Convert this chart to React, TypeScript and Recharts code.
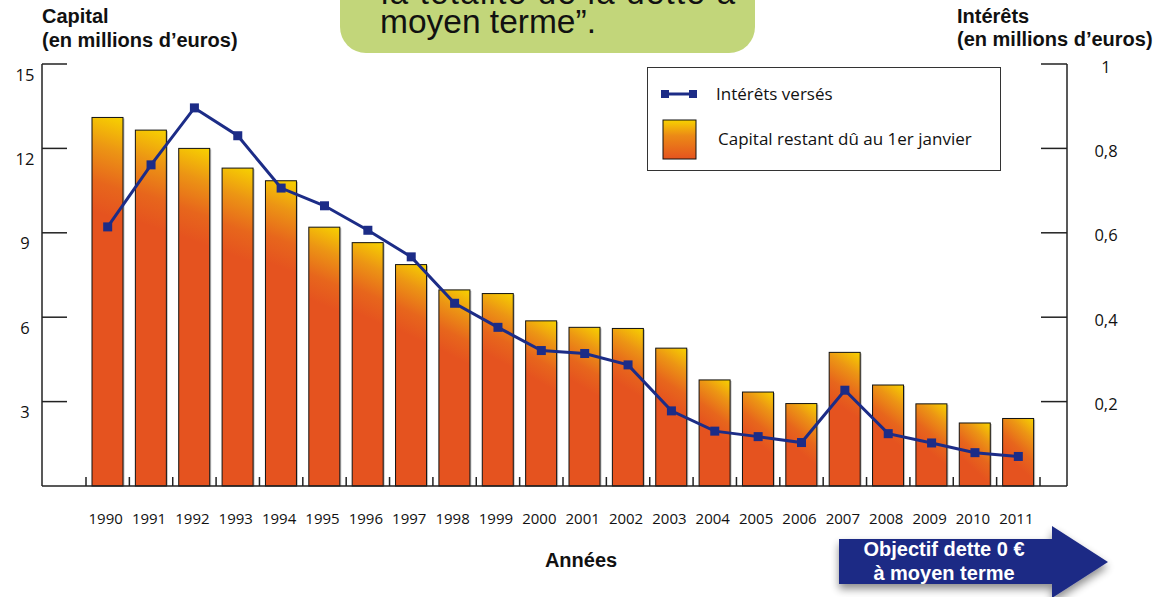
import { Bar, ComposedChart, Legend, Line, XAxis, YAxis } from "recharts";

const years = [
  "1990", "1991", "1992", "1993", "1994", "1995", "1996", "1997", "1998", "1999", "2000",
  "2001", "2002", "2003", "2004", "2005", "2006", "2007", "2008", "2009", "2010", "2011",
];
const capital = [
  13.1, 12.65, 12.0, 11.3, 10.85, 9.2, 8.65, 7.87, 6.97, 6.84, 5.87,
  5.64, 5.6, 4.9, 3.77, 3.34, 2.93, 4.75, 3.59, 2.92, 2.24, 2.4,
];
const interets = [
  0.614, 0.761, 0.896, 0.83, 0.706, 0.664, 0.606, 0.543, 0.433, 0.376, 0.321,
  0.314, 0.287, 0.178, 0.13, 0.117, 0.103, 0.227, 0.124, 0.102, 0.079, 0.07,
];
const capitalTicks = [3, 6, 9, 12, 15];
const interetTicks = [0.2, 0.4, 0.6, 0.8, 1];

const data = years.map((year, i) => ({ year, capital: capital[i], interets: interets[i] }));

const BLUE = "#1C2C87";
const AXIS = "#222";
const TICK_FONT = "'Open Sans', 'Noto Sans', sans-serif";
const BOLD_FONT = "'Liberation Sans', Arial, Helvetica, sans-serif";

const GradBar = (props: any) => {
  const { x, y, width, height, index } = props;
  if (!height || height <= 0) return null;
  const id = `barGrad${index}`;
  const len = 20 + height * 0.2;
  return (
    <g>
      <defs>
        <linearGradient id={id} gradientUnits="userSpaceOnUse" x1={x + width} y1={y} x2={x} y2={y + len}>
          <stop offset="0" stopColor="#F7D200" />
          <stop offset="0.35" stopColor="#EC9514" />
          <stop offset="0.7" stopColor="#E7661C" />
          <stop offset="1" stopColor="#E5531F" />
        </linearGradient>
      </defs>
      <rect x={x + 1.5} y={y + 1} width={width} height={height - 1} fill="#999" opacity={0.6} />
      <rect x={x} y={y} width={width} height={height} fill={`url(#${id})`} stroke="#111" strokeWidth={1} />
    </g>
  );
};

const SquareDot = (props: any) => {
  const { cx, cy, index } = props;
  return <rect key={`d${index}`} x={cx - 4.5} y={cy - 4.5} width={9} height={9} fill={BLUE} />;
};

const LeftTick = (props: any) => {
  const { x, y, payload } = props;
  return (
    <g>
      <line x1={x} x2={x + 25} y1={y} y2={y} stroke={AXIS} strokeWidth={1.5} />
      <text x={x - 17} y={y + 10} textAnchor="middle" dominantBaseline="central" fontSize={16.5} fill="#111" fontFamily={TICK_FONT}>
        {payload.value}
      </text>
    </g>
  );
};

const RightTick = (props: any) => {
  const { x, y, payload } = props;
  return (
    <g>
      <line x1={x - 26} x2={x} y1={y} y2={y} stroke={AXIS} strokeWidth={1.5} />
      <text x={x + 39} y={y + 2} textAnchor="middle" dominantBaseline="central" fontSize={16.5} fill="#111" fontFamily={TICK_FONT}>
        {String(payload.value).replace(".", ",")}
      </text>
    </g>
  );
};

const YearTick = (props: any) => {
  const { x, y, payload } = props;
  const half = payload.offset || 21.7;
  const last = payload.value === years[years.length - 1];
  return (
    <g>
      <line x1={x - half} x2={x - half} y1={y} y2={y - 9} stroke={AXIS} strokeWidth={1.5} />
      {last && <line x1={x + half} x2={x + half} y1={y} y2={y - 9} stroke={AXIS} strokeWidth={1.5} />}
      <text x={x - 2} y={y + 38} textAnchor="middle" fontSize={15} fill="#111" fontFamily={TICK_FONT}>
        {payload.value}
      </text>
    </g>
  );
};

const LegendBox = () => (
  <div style={{ width: 352, height: 102, border: "1.5px solid #333", background: "#fff" }}>
    <svg width={352} height={102} style={{ display: "block" }}>
      <line x1={15} x2={47} y1={26} y2={26} stroke={BLUE} strokeWidth={3} />
      <rect x={13} y={22} width={8} height={8} fill={BLUE} />
      <rect x={41} y={22} width={8} height={8} fill={BLUE} />
      <text x={68} y={32} fontSize={17} fill="#111" fontFamily={TICK_FONT}>Intérêts versés</text>
      <defs>
        <linearGradient id="legGrad" x1="0" y1="0" x2="0" y2="1">
          <stop offset="0" stopColor="#F7D200" />
          <stop offset="0.4" stopColor="#EC8A16" />
          <stop offset="1" stopColor="#E5531F" />
        </linearGradient>
      </defs>
      <rect x={15} y={52} width={33} height={39} fill="url(#legGrad)" stroke="#111" strokeWidth={1} />
      <text x={70} y={77} fontSize={17} fill="#111" fontFamily={TICK_FONT}>Capital restant dû au 1er janvier</text>
    </svg>
  </div>
);

const App = () => {
  return (
    <div style={{ position: "absolute", left: 0, top: 0, width: 1155, height: 597, background: "#fff" }}>
      <ComposedChart width={1155} height={597} data={data} margin={{ top: 64, right: 0, bottom: 0, left: 0 }}>
        <XAxis
          dataKey="year"
          height={111}
          interval={0}
          padding={{ left: 44, right: 27 }}
          tickSize={0}
          tickMargin={0}
          tickLine={false}
          tick={<YearTick />}
          axisLine={{ stroke: AXIS, strokeWidth: 1.5 }}
        />
        <YAxis
          yAxisId="left"
          width={42}
          domain={[0, 15]}
          ticks={capitalTicks}
          tickSize={0}
          tickMargin={0}
          tickLine={false}
          tick={<LeftTick />}
          axisLine={{ stroke: AXIS, strokeWidth: 1.5 }}
        />
        <YAxis
          yAxisId="right"
          orientation="right"
          width={88}
          domain={[0, 1]}
          ticks={interetTicks}
          tickSize={0}
          tickMargin={0}
          tickLine={false}
          tick={<RightTick />}
          axisLine={{ stroke: AXIS, strokeWidth: 1.5 }}
        />
        <Legend
          layout="horizontal"
          verticalAlign="middle"
          align="center"
          content={<LegendBox />}
          wrapperStyle={{ left: 647, top: 67, width: 355, height: 105 }}
        />
        <Bar yAxisId="left" dataKey="capital" barSize={31} shape={<GradBar />} isAnimationActive={false} />
        <Line
          yAxisId="right"
          type="linear"
          dataKey="interets"
          stroke={BLUE}
          strokeWidth={3}
          dot={SquareDot}
          activeDot={false}
          isAnimationActive={false}
        />
      </ComposedChart>

      <svg width={1155} height={597} style={{ position: "absolute", left: 0, top: 0, pointerEvents: "none" }}>
        <defs>
          <filter id="arrowShadow" x="-20%" y="-30%" width="140%" height="180%">
            <feGaussianBlur in="SourceAlpha" stdDeviation="4" />
            <feOffset dx="0" dy="5" result="b" />
            <feComponentTransfer>
              <feFuncA type="linear" slope="0.45" />
            </feComponentTransfer>
            <feMerge>
              <feMergeNode />
              <feMergeNode in="SourceGraphic" />
            </feMerge>
          </filter>
        </defs>

        {/* encadré vert en haut */}
        <rect x={340} y={-40} width={415} height={93} rx={26} fill="#C2D67A" />
        <text x={381} y={4} fontSize={33} fill="#111" fontFamily={BOLD_FONT} textLength={354} lengthAdjust="spacing">
          la totalité de la dette à
        </text>
        <text x={380} y={33} fontSize={33.5} fill="#111" fontFamily={BOLD_FONT}>
          moyen terme”.
        </text>

        {/* titres des axes */}
        <g fontFamily={BOLD_FONT} fontWeight="bold" fontSize={20} fill="#111">
          <text x={42} y={23}>Capital</text>
          <text x={42} y={47}>(en millions d’euros)</text>
          <text x={957} y={23}>Intérêts</text>
          <text x={957} y={46}>(en millions d’euros)</text>
          <text x={581} y={567} textAnchor="middle">Années</text>
        </g>

        {/* flèche objectif */}
        <g filter="url(#arrowShadow)">
          <path d="M839,539 L1052,539 L1052,526 L1108,562 L1052,598 L1052,584 L839,584 Z" fill="#1E2B85" />
        </g>
        <g fontFamily={BOLD_FONT} fontWeight="bold" fontSize={20} fill="#fff" textAnchor="middle">
          <text x={944} y={556}>Objectif dette 0 €</text>
          <text x={944} y={580}>à moyen terme</text>
        </g>
      </svg>
    </div>
  );
};

export default App;
